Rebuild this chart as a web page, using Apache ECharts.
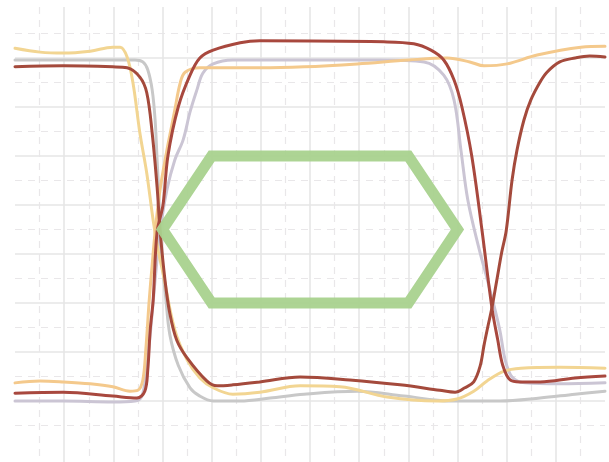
<!DOCTYPE html>
<html>
<head>
<meta charset="utf-8">
<script src="https://cdn.jsdelivr.net/npm/echarts@6/dist/echarts.min.js"></script>
<style>
  html, body { margin: 0; padding: 0; background: #ffffff; }
  #chart { width: 609px; height: 462px; }
</style>
</head>
<body>
<div id="chart"></div>
<script>
// Eye diagram: overlaid waveform traces ([time, level] pairs) and an eye mask.

// 1 -> 0 -> 1 (dark red)
const traceRedFallRise = [[0,7.82],[0.98,7.84],[1.99,7.82],[2.28,7.80],[2.54,7.61],[2.68,7.29],[2.79,6.47],[2.89,5.37],[2.95,4.49],[3.05,3.47],[3.15,2.78],[3.29,2.24],[3.50,1.88],[3.90,1.41],[4.11,1.31],[4.43,1.33],[4.98,1.39],[5.80,1.49],[6.81,1.43],[7.83,1.33],[8.64,1.22],[8.95,1.18],[9.15,1.27],[9.33,1.39],[9.46,1.71],[9.54,2.14],[9.62,2.53],[9.70,2.90],[9.80,3.47],[9.90,4.04],[9.99,4.47],[10.11,5.51],[10.21,6.12],[10.35,6.73],[10.49,7.14],[10.68,7.51],[10.82,7.71],[11.08,7.92],[11.39,8.00],[11.69,8.04],[12,8.02]];

// 0 -> 1 -> 0 (dark red)
const traceRedRiseFall = [[0,1.16],[0.98,1.18],[1.99,1.10],[2.48,1.06],[2.64,1.20],[2.70,1.63],[2.75,2.45],[2.81,3.06],[2.89,4.45],[3.01,5.00],[3.11,6.00],[3.32,7.00],[3.56,7.65],[3.76,8.00],[4.03,8.16],[4.58,8.31],[4.98,8.35],[7.50,8.33],[8.11,8.29],[8.46,8.16],[8.72,7.96],[8.93,7.55],[9.09,7.00],[9.29,6.00],[9.50,4.47],[9.70,2.90],[9.82,2.24],[9.92,1.73],[10.07,1.43],[10.27,1.39],[10.68,1.39],[11.39,1.47],[12,1.51]];

// 1 -> 0 -> 0 (grey)
const traceGreyFall = [[0,7.96],[0.98,7.96],[1.99,7.96],[2.44,7.96],[2.60,7.92],[2.70,7.76],[2.79,7.35],[2.85,6.73],[2.89,5.92],[2.93,5.10],[2.95,4.49],[2.99,3.88],[3.07,3.06],[3.15,2.35],[3.32,1.73],[3.56,1.27],[3.76,1.10],[4.03,1.00],[4.58,1.00],[5.19,1.06],[5.88,1.14],[6.96,1.20],[7.91,1.10],[8.87,1.00],[9.86,1.00],[10.68,1.06],[11.39,1.14],[12,1.20]];

// 0 -> 1 -> 0 (grey)
const traceGreyRiseFall = [[0,1.00],[0.98,1.00],[1.99,0.98],[2.44,1.00],[2.58,1.10],[2.66,1.53],[2.75,2.35],[2.85,3.47],[2.95,4.45],[3.09,5.31],[3.25,5.92],[3.42,6.33],[3.56,6.90],[3.70,7.35],[3.82,7.69],[4.03,7.88],[4.43,7.96],[5.80,7.96],[7.42,7.96],[8.32,7.92],[8.72,7.65],[8.93,7.14],[9.07,6.12],[9.21,5.10],[9.42,4.18],[9.66,3.27],[9.86,2.45],[9.97,1.84],[10.11,1.49],[10.37,1.37],[11.08,1.35],[12,1.37]];

// 1 -> 0 -> partial rise (yellow)
const traceYellowFall = [[0,8.20],[0.51,8.12],[0.98,8.10],[1.53,8.14],[1.99,8.22],[2.14,8.22],[2.28,8.02],[2.40,7.49],[2.54,6.47],[2.68,5.65],[2.81,4.69],[2.91,4.08],[3.01,3.61],[3.25,2.45],[3.50,1.84],[3.76,1.47],[4.03,1.27],[4.43,1.14],[4.98,1.18],[5.80,1.31],[6.61,1.29],[7.57,1.08],[8.58,1.00],[8.99,1.04],[9.33,1.20],[9.60,1.41],[9.95,1.61],[10.29,1.67],[11.08,1.69],[12,1.67]];

// 0 -> 1 -> 1 (orange)
const traceOrangeRise = [[0,1.37],[0.51,1.41],[0.98,1.39],[1.53,1.35],[1.99,1.29],[2.34,1.20],[2.50,1.22],[2.60,1.43],[2.66,2.04],[2.73,3.06],[2.79,3.78],[2.85,4.45],[2.95,5.31],[3.09,6.12],[3.19,6.63],[3.25,6.94],[3.36,7.49],[3.46,7.71],[3.76,7.80],[4.98,7.80],[5.88,7.82],[6.96,7.88],[8.01,7.96],[8.79,8.00],[9.25,7.92],[9.54,7.84],[10.01,7.88],[10.62,8.06],[11.51,8.22],[12,8.24]];

// Eye mask outline (closed hexagon)
const eyeMask = [[6,6],[8,6],[9,4.5],[8,3],[4,3],[3,4.5],[4,6],[6,6]];

const timeRange = [0, 12];
const levelRange = [0, 9];

const chart = echarts.init(document.getElementById('chart'), null, { renderer: 'canvas' });

const solidGrid = { show: true, lineStyle: { color: '#e6e6e6', width: 1.6 }, showMinLine: false, showMaxLine: false };
const dashedGrid = { show: true, lineStyle: { color: '#e9e7e9', width: 1.2, type: [7, 6] } };

function trace(data, color, width) {
  return {
    type: 'line', xAxisIndex: 0, yAxisIndex: 0, data: data,
    smooth: 0.35, showSymbol: false, silent: true,
    lineStyle: { color: color, width: width || 3, cap: 'round', join: 'round' }
  };
}

chart.setOption({
  animation: false,
  backgroundColor: '#ffffff',
  grid: [
    { left: 15, right: 4, top: 9, bottom: 12 },
    { left: 15, right: 4, top: 7, bottom: -30 }
  ],
  xAxis: [
    { type: 'value', gridIndex: 0, min: timeRange[0], max: timeRange[1], interval: 1,
      axisLine: { show: false }, axisTick: { show: false }, axisLabel: { show: false },
      splitLine: { show: false } },
    { type: 'value', gridIndex: 1, min: timeRange[0], max: timeRange[1], interval: 1,
      axisLine: { show: false }, axisTick: { show: false }, axisLabel: { show: false },
      minorTick: { show: false, splitNumber: 2 },
      splitLine: solidGrid, minorSplitLine: dashedGrid }
  ],
  yAxis: [
    { type: 'value', gridIndex: 0, min: levelRange[0], max: levelRange[1], interval: 1,
      axisLine: { show: false }, axisTick: { show: false }, axisLabel: { show: false },
      minorTick: { show: false, splitNumber: 2 },
      splitLine: solidGrid, minorSplitLine: dashedGrid },
    { type: 'value', gridIndex: 1, min: 0, max: 1,
      axisLine: { show: false }, axisTick: { show: false }, axisLabel: { show: false },
      splitLine: { show: false } }
  ],
  series: [
    trace(traceGreyFall, '#c8c8c8'),
    trace(traceGreyRiseFall, '#cbc5d4'),
    trace(traceYellowFall, '#f2d592'),
    trace(traceOrangeRise, '#f4c98c'),
    trace(traceRedRiseFall, '#a8483e'),
    trace(traceRedFallRise, '#a44a3c'),
    {
      type: 'line', xAxisIndex: 0, yAxisIndex: 0, data: eyeMask,
      showSymbol: false, silent: true,
      lineStyle: { color: '#a9d28e', width: 11, join: 'miter', opacity: 0.95 }
    }
  ]
});
</script>
</body>
</html>
